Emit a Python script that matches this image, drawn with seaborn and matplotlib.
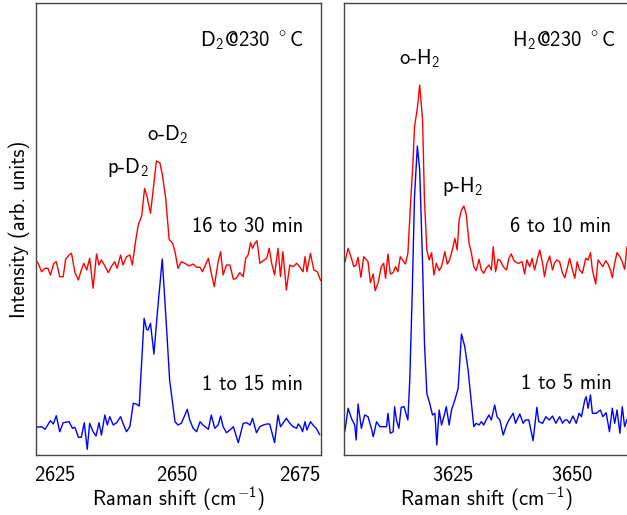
import numpy as np
import pandas as pd
import matplotlib
matplotlib.use("Agg")
import matplotlib.pyplot as plt
import seaborn as sns

# ---------------- data ----------------
# D2 @ 230 C, 1 to 15 min (blue)
d2_early_x = [2620.9, 2622.3, 2623.0, 2624.1, 2624.7, 2625.3, 2626.0, 2626.7, 2627.9, 2628.6,
              2629.1, 2629.8, 2630.4, 2631.0, 2631.6, 2632.1, 2632.8, 2633.4, 2634.0, 2634.5,
              2635.2, 2635.7, 2636.2, 2636.9, 2637.6, 2638.4, 2638.9, 2639.6, 2640.3, 2641.0,
              2641.6, 2642.2, 2643.2, 2643.7, 2644.0, 2644.5, 2645.2, 2645.9, 2646.9, 2647.8,
              2648.4, 2649.5, 2650.1, 2650.8, 2652.0, 2652.5, 2653.2, 2653.9, 2654.6, 2655.2,
              2656.3, 2656.9, 2657.6, 2658.3, 2658.8, 2659.3, 2660.0, 2660.7, 2661.4, 2662.4,
              2663.4, 2664.1, 2664.8, 2665.3, 2666.1, 2666.8, 2667.5, 2668.2, 2668.8, 2669.8,
              2670.5, 2671.0, 2671.5, 2672.2, 2672.9, 2673.6, 2674.3, 2674.6, 2675.1, 2675.5,
              2676.0, 2676.4, 2677.1, 2677.8, 2678.3, 2679.0]
d2_early_y = [27.7, 28.3, 25.7, 34.3, 31.0, 39.3, 23.3, 32.3, 33.3, 26.7,
              27.7, 17.7, 17.7, 32.3, 5.7, 31.7, 23.3, 19.0, 32.3, 20.0,
              40.0, 30.0, 38.3, 30.0, 32.3, 38.3, 31.7, 23.3, 28.3, 51.7,
              51.0, 49.0, 136.7, 125.7, 125.0, 131.7, 101.0, 142.3, 196.0, 125.0,
              75.0, 33.3, 30.0, 31.7, 45.7, 35.0, 26.7, 23.3, 33.3, 30.0,
              25.7, 40.0, 26.7, 30.0, 39.0, 28.3, 22.3, 25.0, 28.3, 12.3,
              31.7, 32.3, 30.0, 36.7, 22.3, 28.3, 30.0, 31.0, 31.0, 12.3,
              40.0, 28.3, 31.7, 36.7, 31.7, 28.3, 26.7, 31.0, 28.3, 23.3,
              33.3, 25.0, 33.3, 29.0, 26.7, 20.3]

# D2 @ 230 C, 16 to 30 min (red)
d2_late_x = [2620.9, 2621.6, 2622.3, 2623.0, 2623.6, 2624.1, 2624.8, 2625.3, 2626.0, 2626.7,
             2627.2, 2627.9, 2628.4, 2629.1, 2629.8, 2630.4, 2630.9, 2631.5, 2632.1, 2632.8,
             2633.5, 2634.0, 2634.5, 2635.2, 2635.9, 2636.5, 2637.2, 2637.7, 2638.4, 2638.9,
             2639.6, 2640.3, 2640.8, 2641.5, 2642.0, 2642.7, 2643.3, 2643.8, 2644.5, 2645.2,
             2645.7, 2646.4, 2646.9, 2647.6, 2648.3, 2649.0, 2649.5, 2650.1, 2650.8, 2651.5,
             2652.4, 2653.2, 2653.9, 2654.6, 2655.1, 2656.3, 2656.9, 2657.5, 2658.3, 2658.8,
             2659.3, 2660.0, 2660.7, 2661.4, 2662.0, 2662.7, 2663.4, 2663.9, 2664.4, 2664.9,
             2665.3, 2665.8, 2666.2, 2666.8, 2667.5, 2668.2, 2668.7, 2669.2, 2669.8, 2670.5,
             2671.0, 2671.5, 2672.2, 2672.9, 2673.6, 2674.3, 2674.9, 2675.6, 2676.0, 2676.4,
             2677.1, 2677.8, 2678.5, 2679.2]
d2_late_y = [196.7, 191.7, 183.3, 186.7, 186.7, 180.0, 191.7, 193.3, 178.3, 178.3,
             195.7, 200.0, 201.7, 182.3, 175.0, 185.0, 191.7, 185.0, 196.7, 166.7,
             201.0, 190.0, 195.0, 189.0, 182.3, 188.3, 193.3, 186.7, 200.0, 190.0,
             198.3, 200.0, 190.0, 215.0, 230.0, 239.0, 266.7, 258.3, 241.7, 271.7,
             294.0, 292.3, 281.0, 256.7, 215.7, 211.7, 203.3, 186.7, 193.3, 191.7,
             189.0, 191.0, 187.7, 187.7, 183.3, 196.7, 181.7, 168.3, 193.3, 203.3,
             180.0, 190.0, 190.0, 175.7, 176.7, 182.3, 178.3, 196.7, 200.0, 212.3,
             206.7, 211.7, 214.3, 191.7, 194.3, 196.7, 206.7, 191.7, 180.0, 206.7,
             178.3, 203.3, 165.0, 190.0, 188.3, 191.7, 188.3, 183.3, 198.3, 183.3,
             201.7, 185.0, 183.3, 174.3]

# H2 @ 230 C, 1 to 5 min (blue)
h2_early_x = [3602.1, 3602.8, 3603.5, 3604.2, 3604.5, 3604.9, 3605.6, 3606.3, 3607.0, 3607.7,
              3608.1, 3608.8, 3609.5, 3610.2, 3610.9, 3611.2, 3611.7, 3612.3, 3612.6, 3613.0,
              3613.5, 3614.0, 3614.6, 3615.4, 3615.8, 3616.3, 3616.8, 3617.4, 3617.9, 3618.5,
              3618.9, 3619.4, 3620.0, 3620.6, 3621.1, 3621.5, 3622.0, 3622.5, 3623.0, 3623.5,
              3624.1, 3624.6, 3625.3, 3626.0, 3626.7, 3627.4, 3628.1, 3628.8, 3629.3, 3629.8,
              3630.4, 3630.9, 3631.4, 3631.9, 3632.5, 3633.0, 3633.7, 3634.2, 3634.8, 3635.5,
              3636.2, 3636.7, 3637.6, 3638.1, 3639.0, 3639.7, 3640.2, 3640.9, 3641.8, 3642.6,
              3643.0, 3643.8, 3644.5, 3645.2, 3645.9, 3646.6, 3647.4, 3648.0, 3648.5, 3649.0,
              3649.5, 3650.2, 3650.9, 3651.5, 3652.0, 3652.7, 3653.0, 3653.4, 3653.9, 3654.3,
              3655.1, 3656.0, 3656.5, 3657.2, 3657.9, 3658.5, 3659.0, 3659.5, 3660.1, 3660.6,
              3661.1, 3661.6]
h2_early_y = [23.3, 46.7, 36.7, 30.0, 15.0, 51.0, 26.7, 40.0, 38.3, 26.7,
              18.3, 33.3, 28.3, 28.3, 28.3, 41.7, 21.7, 23.3, 48.3, 35.0,
              26.7, 47.7, 48.3, 35.0, 75.0, 158.3, 258.3, 309.0, 285.0, 191.7,
              111.7, 61.7, 51.7, 40.0, 41.7, 10.0, 45.0, 30.0, 38.3, 48.3,
              30.0, 45.0, 55.0, 66.7, 121.0, 108.3, 85.0, 51.7, 28.3, 31.7,
              30.0, 33.3, 30.0, 35.0, 40.0, 35.0, 50.0, 38.3, 35.0, 20.0,
              30.0, 35.0, 41.7, 31.7, 41.0, 31.7, 35.0, 35.0, 14.3, 47.7,
              33.3, 31.7, 38.3, 35.0, 39.0, 31.7, 38.3, 31.7, 35.0, 35.0,
              31.7, 39.0, 31.7, 41.7, 38.3, 55.0, 58.3, 46.7, 60.0, 41.7,
              41.7, 45.0, 38.3, 42.3, 23.3, 46.7, 31.7, 45.0, 21.7, 48.3,
              28.3, 35.7]

# H2 @ 230 C, 6 to 10 min (red)
h2_late_x = [3602.1, 3602.8, 3603.5, 3604.0, 3604.5, 3604.9, 3605.5, 3606.1, 3606.7, 3607.0,
             3607.5, 3608.1, 3608.5, 3609.1, 3609.8, 3610.3, 3610.7, 3611.2, 3611.7, 3612.3,
             3612.8, 3613.3, 3613.8, 3614.4, 3614.9, 3615.4, 3615.9, 3616.5, 3616.8, 3617.4,
             3617.9, 3618.5, 3618.9, 3619.4, 3619.9, 3620.4, 3620.9, 3621.4, 3622.0, 3622.5,
             3623.2, 3623.7, 3624.2, 3624.8, 3625.3, 3625.8, 3626.2, 3626.7, 3627.2, 3627.7,
             3628.3, 3628.8, 3629.3, 3629.8, 3630.4, 3630.9, 3631.4, 3631.9, 3632.5, 3633.0,
             3633.4, 3633.9, 3634.4, 3634.9, 3635.5, 3636.2, 3636.7, 3637.2, 3637.7, 3638.3,
             3638.8, 3639.5, 3640.0, 3640.5, 3641.1, 3641.6, 3642.1, 3642.6, 3643.2, 3643.8,
             3644.2, 3644.7, 3645.3, 3645.9, 3646.3, 3646.8, 3647.4, 3648.0, 3648.5, 3649.0,
             3649.5, 3650.1, 3650.6, 3651.1, 3651.6, 3652.2, 3652.9, 3653.4, 3653.9, 3654.3,
             3655.0, 3655.5, 3656.0, 3656.5, 3657.1, 3657.6, 3658.1, 3658.5, 3659.0, 3659.5,
             3660.1, 3660.6, 3661.1, 3661.6]
h2_late_y = [192.3, 206.7, 196.7, 188.3, 190.0, 197.7, 177.7, 198.3, 195.0, 193.3,
             172.3, 181.0, 164.3, 171.7, 188.3, 191.7, 176.7, 201.0, 181.0, 182.3,
             188.3, 183.3, 198.3, 194.3, 191.0, 201.7, 245.0, 295.0, 328.3, 346.7,
             370.0, 335.0, 255.0, 205.0, 195.0, 202.3, 180.0, 191.7, 184.3, 188.3,
             203.3, 191.0, 195.0, 205.7, 216.7, 205.0, 235.0, 245.0, 249.0, 241.0,
             211.7, 201.7, 188.3, 184.3, 195.7, 185.0, 181.7, 186.7, 190.0, 185.0,
             208.3, 183.3, 195.7, 194.3, 188.3, 185.0, 196.7, 201.0, 195.0, 192.3,
             191.7, 193.3, 181.0, 195.0, 188.3, 196.7, 185.0, 194.3, 205.0, 191.7,
             178.3, 191.0, 199.0, 185.0, 191.7, 195.0, 193.3, 181.7, 177.3, 186.7,
             196.7, 185.0, 176.7, 193.3, 185.0, 181.7, 196.7, 195.0, 202.3, 185.0,
             171.0, 195.0, 191.7, 188.3, 194.3, 191.0, 185.0, 177.3, 191.7, 202.3,
             198.3, 193.3, 185.7, 208.3]

d2_ticks = [2625, 2650, 2675]
h2_ticks = [3625, 3650]

# ---------------- style ----------------
sns.set_style("white")
plt.rcParams.update({
    "font.family": ["cmss10", "DejaVu Sans"],
    "mathtext.fontset": "custom",
    "mathtext.rm": "cmss10",
    "mathtext.sf": "cmss10",
    "mathtext.it": "cmss10",
    "mathtext.bf": "cmss10",
    "axes.unicode_minus": False,
    "axes.formatter.use_mathtext": True,
    "text.color": "black",
    "axes.labelcolor": "black",
    "xtick.color": "black",
})

FS = 14.8
W, H = 627, 515
fig = plt.figure(figsize=(W / 100, H / 100), dpi=100)

ax1 = fig.add_axes([35.7 / W, 1 - 455 / H, 285.0 / W, 452 / H])
ax2 = fig.add_axes([344.3 / W, 1 - 455 / H, 284.6 / W, 452 / H])

df_d2 = pd.concat([
    pd.DataFrame({"shift": d2_early_x, "I": d2_early_y, "t": "1 to 15 min"}),
    pd.DataFrame({"shift": d2_late_x, "I": d2_late_y, "t": "16 to 30 min"}),
])
df_h2 = pd.concat([
    pd.DataFrame({"shift": h2_early_x, "I": h2_early_y, "t": "1 to 5 min"}),
    pd.DataFrame({"shift": h2_late_x, "I": h2_late_y, "t": "6 to 10 min"}),
])

pal_d2 = {"1 to 15 min": "#0000ff", "16 to 30 min": "#ff0000"}
pal_h2 = {"1 to 5 min": "#0000ff", "6 to 10 min": "#ff0000"}

sns.lineplot(data=df_d2, x="shift", y="I", hue="t", palette=pal_d2, estimator=None,
             sort=False, linewidth=1.0, legend=False, ax=ax1)
sns.lineplot(data=df_h2, x="shift", y="I", hue="t", palette=pal_h2, estimator=None,
             sort=False, linewidth=1.0, legend=False, ax=ax2)

ax1.set_xlim(2621.1, 2679.2)
ax2.set_xlim(3602.0, 3662.0)
for ax in (ax1, ax2):
    ax.set_ylim(0, 452)
    ax.set_yticks([])
    ax.set_ylabel("")
    ax.set_xlabel(r"Raman shift (cm$^{-1}$)", fontsize=FS, labelpad=0)
    ax.tick_params(axis="x", which="both", direction="in", length=5, width=0.8,
                   labelsize=FS, pad=7, colors="#222222", labelcolor="black")
    for s in ax.spines.values():
        s.set_linewidth(1.0)
        s.set_color("#444444")
        s.set_visible(True)

ax1.set_xticks(d2_ticks)
ax1.set_xticks([2637.5, 2662.5], minor=True)
ax2.set_xticks(h2_ticks)
ax2.set_xticks([3612.5, 3637.5], minor=True)

ax1.set_ylabel("Intensity (arb. units)", fontsize=FS)
ax1.yaxis.label.set_verticalalignment("center")
ax1.yaxis.set_label_coords((19 - 35.7) / 285.0, (455 - 229) / 452)

# annotations
ax1.text(2675.8, 408.5, r"D$_2$@230 $^\circ$C", fontsize=FS, ha="right", va="baseline")
ax1.text(2648.0, 315, r"o-D$_2$", fontsize=FS, ha="center", va="baseline")
ax1.text(2639.8, 282, r"p-D$_2$", fontsize=FS, ha="center", va="baseline")
ax1.text(2675.6, 223.3, "16 to 30 min", fontsize=FS, ha="right", va="baseline")
ax1.text(2675.5, 65, "1 to 15 min", fontsize=FS, ha="right", va="baseline")

ax2.text(3659.2, 408.5, r"H$_2$@230 $^\circ$C", fontsize=FS, ha="right", va="baseline")
ax2.text(3617.9, 390.7, r"o-H$_2$", fontsize=FS, ha="center", va="baseline")
ax2.text(3626.9, 263.3, r"p-H$_2$", fontsize=FS, ha="center", va="baseline")
ax2.text(3658.3, 223.3, "6 to 10 min", fontsize=FS, ha="right", va="baseline")
ax2.text(3658.3, 66, "1 to 5 min", fontsize=FS, ha="right", va="baseline")

fig.savefig("out.png", dpi=100)
